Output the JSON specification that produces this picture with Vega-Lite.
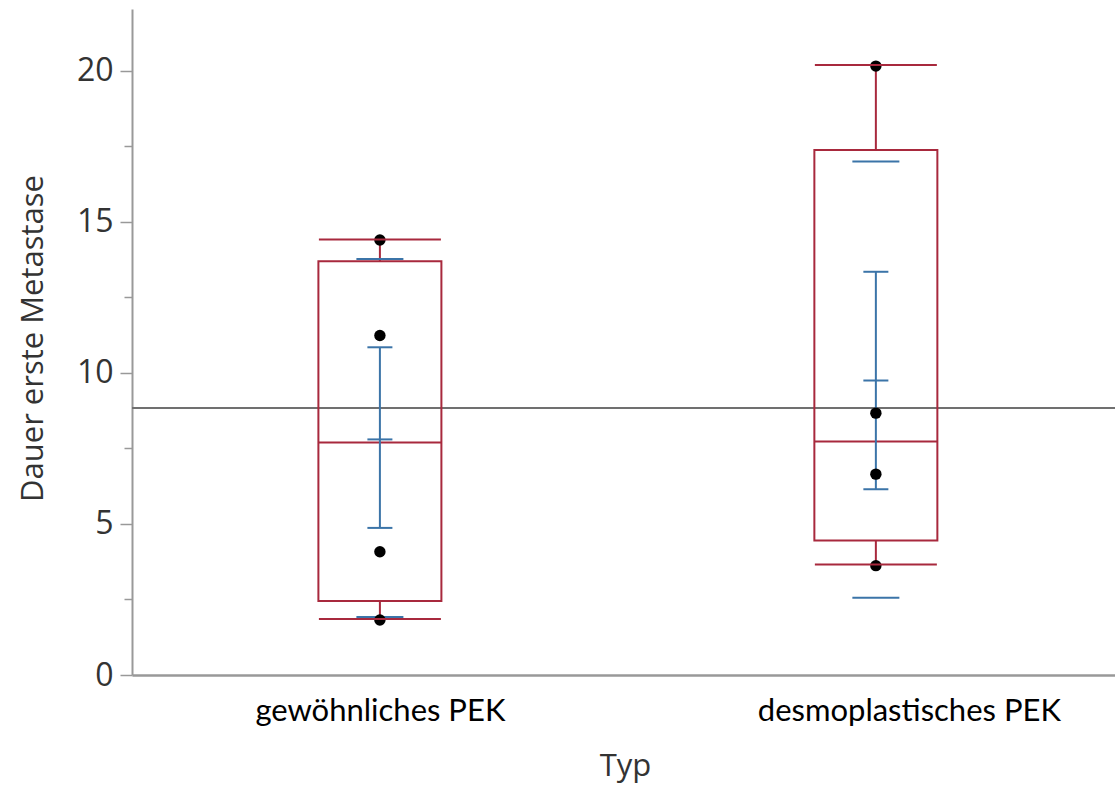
{
  "$schema": "https://vega.github.io/schema/vega-lite/v6.json",
  "autosize": {"type": "none"},
  "padding": {"left": 132, "top": 9, "right": 0, "bottom": 114},
  "width": 983,
  "height": 666,
  "background": "white",
  "config": {"view": {"stroke": null}},
  "datasets": {
    "summary": [
      {"typ": "gewöhnliches PEK", "min": 1.85, "q1": 2.45, "median": 7.7, "q3": 13.7, "max": 14.42, "mean": 7.8, "se_lo": 4.87, "se_hi": 10.85, "sd_lo": 1.92, "sd_hi": 13.77},
      {"typ": "desmoplastisches PEK", "min": 3.66, "q1": 4.45, "median": 7.73, "q3": 17.38, "max": 20.2, "mean": 9.75, "se_lo": 6.15, "se_hi": 13.35, "sd_lo": 2.56, "sd_hi": 17.0}
    ],
    "points": [
      {"typ": "gewöhnliches PEK", "dauer": 1.82},
      {"typ": "gewöhnliches PEK", "dauer": 4.08},
      {"typ": "gewöhnliches PEK", "dauer": 11.24},
      {"typ": "gewöhnliches PEK", "dauer": 14.4},
      {"typ": "desmoplastisches PEK", "dauer": 3.62},
      {"typ": "desmoplastisches PEK", "dauer": 6.65},
      {"typ": "desmoplastisches PEK", "dauer": 8.67},
      {"typ": "desmoplastisches PEK", "dauer": 20.16}
    ],
    "grand": [{"mittel": 8.84}]
  },
  "resolve": {"scale": {"y": "shared", "x": "shared"}, "axis": {"y": "independent"}},
  "layer": [
    {
      "data": {"name": "grand"},
      "mark": {"type": "rule", "color": "#707070", "strokeWidth": 2},
      "encoding": {
        "y": {
          "field": "mittel", "type": "quantitative",
          "scale": {"domain": [0, 22.05], "nice": false, "zero": true},
          "axis": {
            "orient": "left",
            "title": "Dauer erste Metastase",
            "values": [0, 5, 10, 15, 20],
            "grid": false,
            "domainColor": "#999999", "domainWidth": 2,
            "tickColor": "#999999", "tickWidth": 1.5, "tickSize": 12,
            "labelFont": "Open Sans", "labelFontSize": 32, "labelColor": "#333333", "labelPadding": 7,
            "titleFont": "Open Sans", "titleFontSize": 31, "titleFontWeight": "normal", "titleColor": "#333333",
            "titleAngle": 270, "titleX": -90, "titleY": 329, "titleAlign": "center", "titleBaseline": "alphabetic"
          }
        }
      }
    },
    {
      "data": {"name": "summary"},
      "mark": {"type": "bar", "width": 123, "fill": "white", "fillOpacity": 0, "stroke": "#a8293d", "strokeWidth": 2},
      "encoding": {
        "x": {
          "field": "typ", "type": "nominal",
          "scale": {"type": "point", "domain": ["gewöhnliches PEK", "desmoplastisches PEK"], "padding": 0.491, "align": 0.509},
          "axis": {
            "title": "Typ",
            "labelAngle": 0,
            "labelLimit": 500,
            "labelOffset": {"condition": {"test": "datum.value === 'desmoplastisches PEK'", "value": 33}, "value": 0},
            "domainColor": "#999999", "domainWidth": 2.5,
            "ticks": false, "tickSize": 0,
            "labelFont": "Lato", "labelFontSize": 31, "labelColor": "#000000", "labelPadding": 45, "labelBaseline": "alphabetic",
            "titleFont": "Open Sans", "titleFontSize": 31, "titleFontWeight": "normal", "titleColor": "#333333",
            "titleX": 493, "titleY": 100, "titleAlign": "center", "titleBaseline": "alphabetic"
          }
        },
        "y": {
          "field": "q3", "type": "quantitative",
          "axis": {
            "orient": "left",
            "title": null,
            "values": [2.5, 7.5, 12.5, 17.5],
            "labels": false, "grid": false, "domain": false,
            "tickColor": "#999999", "tickWidth": 1.5, "tickSize": 8
          }
        },
        "y2": {"field": "q1"}
      }
    },
    {
      "data": {"name": "summary"},
      "mark": {"type": "rule", "color": "#a8293d", "strokeWidth": 2},
      "encoding": {
        "x": {"field": "typ", "type": "nominal"},
        "y": {"field": "q3", "type": "quantitative", "axis": null},
        "y2": {"field": "max"}
      }
    },
    {
      "data": {"name": "summary"},
      "mark": {"type": "rule", "color": "#a8293d", "strokeWidth": 2},
      "encoding": {
        "x": {"field": "typ", "type": "nominal"},
        "y": {"field": "min", "type": "quantitative", "axis": null},
        "y2": {"field": "q1"}
      }
    },
    {
      "data": {"name": "summary"},
      "mark": {"type": "tick", "color": "#a8293d", "size": 123, "thickness": 2, "opacity": 1},
      "encoding": {
        "x": {"field": "typ", "type": "nominal"},
        "y": {"field": "median", "type": "quantitative", "axis": null}
      }
    },
    {
      "data": {"name": "summary"},
      "mark": {"type": "rule", "color": "#3b74a8", "strokeWidth": 2},
      "encoding": {
        "x": {"field": "typ", "type": "nominal"},
        "y": {"field": "se_lo", "type": "quantitative", "axis": null},
        "y2": {"field": "se_hi"}
      }
    },
    {
      "data": {"name": "summary"},
      "transform": [{"fold": ["se_lo", "se_hi", "mean"], "as": ["kennwert", "wert"]}],
      "mark": {"type": "tick", "color": "#3b74a8", "size": 25, "thickness": 2, "opacity": 1},
      "encoding": {
        "x": {"field": "typ", "type": "nominal"},
        "y": {"field": "wert", "type": "quantitative", "axis": null}
      }
    },
    {
      "data": {"name": "summary"},
      "transform": [{"fold": ["sd_lo", "sd_hi"], "as": ["kennwert", "wert"]}],
      "mark": {"type": "tick", "color": "#3b74a8", "size": 47, "thickness": 2, "opacity": 1},
      "encoding": {
        "x": {"field": "typ", "type": "nominal"},
        "y": {"field": "wert", "type": "quantitative", "axis": null}
      }
    },
    {
      "data": {"name": "points"},
      "mark": {"type": "circle", "color": "#000000", "size": 130, "opacity": 1},
      "encoding": {
        "x": {"field": "typ", "type": "nominal"},
        "y": {"field": "dauer", "type": "quantitative", "axis": null}
      }
    },
    {
      "data": {"name": "summary"},
      "transform": [{"fold": ["min", "max"], "as": ["kennwert", "wert"]}],
      "mark": {"type": "tick", "color": "#a8293d", "size": 122, "thickness": 2, "opacity": 1},
      "encoding": {
        "x": {"field": "typ", "type": "nominal"},
        "y": {"field": "wert", "type": "quantitative", "axis": null}
      }
    },
    {
      "mark": {"type": "rule", "color": "#999999", "strokeWidth": 2},
      "encoding": {
        "y": {"datum": 22.05, "type": "quantitative", "axis": null}
      }
    }
  ]
}
